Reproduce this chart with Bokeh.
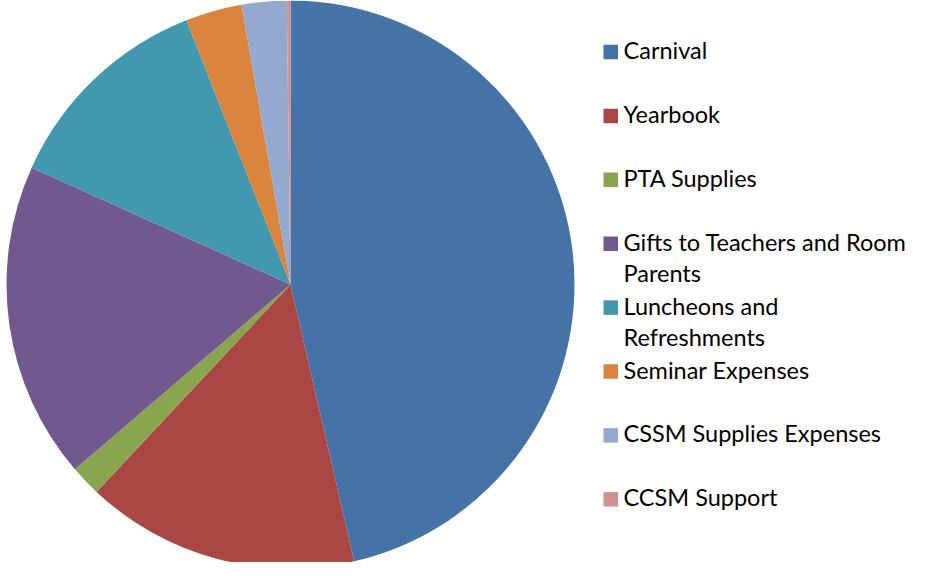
import numpy as np
from bokeh.plotting import figure
from bokeh.models import ColumnDataSource, Range1d
from bokeh.core.properties import value
from bokeh.embed import file_html
from bokeh.resources import INLINE

# ---- data ----
categories = ["Carnival", "Yearbook", "PTA Supplies",
              "Gifts to Teachers and Room Parents", "Luncheons and Refreshments",
              "Seminar Expenses", "CSSM Supplies Expenses", "CCSM Support"]
legend_labels = ["Carnival", "Yearbook", "PTA Supplies",
                 "Gifts to Teachers and Room\nParents", "Luncheons and\nRefreshments",
                 "Seminar Expenses", "CSSM Supplies Expenses", "CCSM Support"]
amounts = [4640, 1557, 175, 1803, 1228, 321, 255, 21]
colors = ["#4572A7", "#AA4643", "#89A54E", "#71588F",
          "#4198AF", "#DB843D", "#93A9CF", "#D19392"]

# ---- layout (page has an 8px margin) ----
W, H = 924, 562
CX, CY, R = 290, 278, 284
LEG_X = 603          # left of legend swatch
SW = 14.5            # swatch size
TXT_X = 623
FIRST_BASE = 503     # baseline of first legend entry
TEXT_FIX = 9.5       # renderer baseline correction
STEP = 63.9          # entry spacing
LINE_GAP = 31        # wrapped line spacing
FONT = "Lato"
FSIZE = "23.5px"

vals = np.array(amounts, dtype=float)
frac = vals / vals.sum()
cum = np.concatenate([[0.0], np.cumsum(frac)])
start = np.pi / 2 - cum[:-1] * 2 * np.pi
end = np.pi / 2 - cum[1:] * 2 * np.pi

pie_src = ColumnDataSource(dict(cat=categories, start=start, end=end, color=colors))

p = figure(width=W, height=H, x_range=Range1d(0, W), y_range=Range1d(0, H),
           output_backend="svg", toolbar_location=None, min_border=0)
p.axis.visible = False
p.grid.visible = False
p.outline_line_color = None
p.background_fill_color = "white"
p.border_fill_color = "white"

p.wedge(x=CX, y=CY, radius=R, start_angle="start", end_angle="end",
        direction="clock", fill_color="color", line_color=None, source=pie_src)

# ---- legend ----
base = [FIRST_BASE - STEP * i for i in range(len(categories))]
sw_src = ColumnDataSource(dict(x=[LEG_X + SW / 2] * len(categories),
                               y=[b + 7.5 for b in base], color=colors))
p.rect(x="x", y="y", width=SW, height=SW, fill_color="color", line_color=None,
       source=sw_src)

tx, ty, tt = [], [], []
for b, lab in zip(base, legend_labels):
    for j, line in enumerate(lab.split("\n")):
        tx.append(TXT_X)
        ty.append(b + TEXT_FIX - j * LINE_GAP)
        tt.append(line)
txt_src = ColumnDataSource(dict(x=tx, y=ty, text=tt))
p.text(x="x", y="y", text="text", source=txt_src, text_align="left",
       text_baseline="alphabetic", text_font=value(FONT),
       text_font_size=value(FSIZE), text_color="#000000")

open("out.html", "w").write(file_html(p, INLINE))
